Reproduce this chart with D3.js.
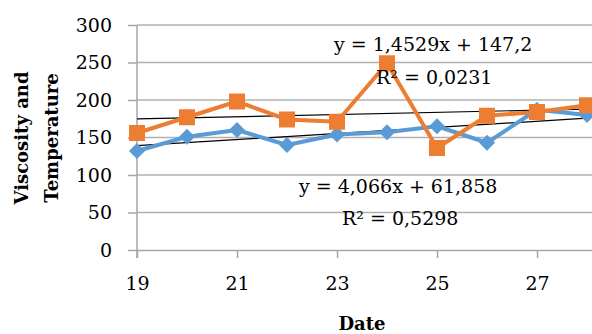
<!DOCTYPE html>
<html><head><meta charset="utf-8">
<script src="https://cdn.jsdelivr.net/npm/d3@7"></script>
<style>body{margin:0;background:#fff}svg{display:block}text{font-family:'DejaVu Serif',serif;fill:#000}</style>
</head><body>
<script>
const dates = [19,20,21,22,23,24,25,26,27,28];
const viscosity = [132,151,160,140,154,157,165,143,187,180];
const temperature = [156,177,198,174,171,249,136,179,184,193];
const xTicks = [19,21,23,25,27];
const yTicks = [0,50,100,150,200,250,300];
const trendBlue = {slope:4.066, intercept:61.858, eq:"y = 4,066x + 61,858", r2:"R² = 0,5298"};
const trendOrange = {slope:1.4529, intercept:147.2, eq:"y = 1,4529x + 147,2", r2:"R² = 0,0231"};

const W=592,H=334;
const FONT="'DejaVu Serif', serif";
const svg=d3.select("body").append("svg").attr("width",W).attr("height",H);
const x=d3.scaleLinear().domain([19,28]).range([137,587]);
const y=d3.scaleLinear().domain([0,300]).range([250,25]);
const grid="#a6a6a6";

// gridlines
svg.append("g").selectAll("line").data(yTicks.filter(d=>d>0)).join("line")
 .attr("x1",x(19)).attr("x2",W).attr("y1",d=>y(d)).attr("y2",d=>y(d))
 .attr("stroke","#b0b0b0").attr("stroke-width",1.3);

// axes
const yAxis=svg.append("g").attr("transform",`translate(${x(19)},0)`)
 .call(d3.axisLeft(y).tickValues(yTicks).tickSize(9).tickPadding(16));
const xAxis=svg.append("g").attr("transform",`translate(0,${y(0)})`)
 .call(d3.axisBottom(x).tickValues(xTicks).tickSize(8).tickPadding(19).tickSizeOuter(0));
xAxis.select(".domain").attr("d",`M${x(19)},0.5H${W}`);
yAxis.select(".domain").remove();
yAxis.append("line").attr("x1",0).attr("x2",0).attr("y1",y(300)).attr("y2",y(0)+8);
[xAxis,yAxis].forEach(a=>{
 a.attr("font-family",FONT).attr("font-size",19);
 a.selectAll("path,line").attr("stroke",grid).attr("stroke-width",1.5);
 a.selectAll("text").style("font-family",FONT).style("font-size","19px").attr("fill","#000");
});

// trendlines
[trendBlue,trendOrange].forEach(t=>{
 svg.append("line").attr("x1",x(19)).attr("x2",x(28))
  .attr("y1",y(t.slope*19+t.intercept)).attr("y2",y(t.slope*28+t.intercept))
  .attr("stroke","#000").attr("stroke-width",1.2);
});

const line=d3.line().x((d,i)=>x(dates[i])).y(d=>y(d));
svg.append("path").datum(viscosity).attr("d",line).attr("fill","none").attr("stroke","#5B9BD5").attr("stroke-width",4).attr("stroke-linejoin","round");
svg.append("g").selectAll("path").data(viscosity).join("path")
 .attr("transform",(d,i)=>`translate(${x(dates[i])},${y(d)})`)
 .attr("d","M0,-8L8,0L0,8L-8,0Z").attr("fill","#5B9BD5");
svg.append("path").datum(temperature).attr("d",line).attr("fill","none").attr("stroke","#ED7D31").attr("stroke-width",4).attr("stroke-linejoin","round");
svg.append("g").selectAll("rect").data(temperature).join("rect")
 .attr("x",(d,i)=>x(dates[i])-8).attr("y",d=>y(d)-8).attr("width",16).attr("height",16).attr("fill","#ED7D31");

// trend labels
const lab=(t,xx,yy)=>svg.append("text").attr("x",xx).attr("y",yy).style("font-family",FONT).style("font-size","19px").text(t);
lab(trendOrange.eq,334,51);
lab(trendOrange.r2,376,84);
lab(trendBlue.eq,299,193);
lab(trendBlue.r2,342,225);

// axis titles
const title=(t,tr)=>svg.append("text").attr("transform",tr).attr("text-anchor","middle")
 .style("font-family",FONT).style("font-size","18px").style("font-weight","bold").text(t);
title("Date","translate(362,330)");
title("Viscosity and","translate(28,138) rotate(-90)");
title("Temperature","translate(58,138) rotate(-90)");
</script>
</body></html>
